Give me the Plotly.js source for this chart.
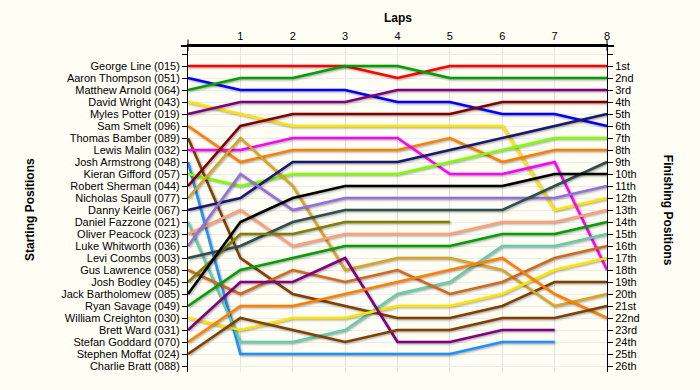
<!DOCTYPE html>
<html>
<head>
<meta charset="utf-8">
<script src="https://cdn.plot.ly/plotly-3.0.1.min.js"></script>
<style>
  html, body { margin: 0; padding: 0; background: #FFFEF5; }
  #chart { width: 700px; height: 390px; }
  #chart .scatterlayer .trace path.js-line {
    filter: drop-shadow(1px 1.5px 0.8px rgba(0, 0, 0, 0.38));
  }
</style>
</head>
<body>
<div id="chart"></div>
<script>
// ---- data ----
const laps = [0, 1, 2, 3, 4, 5, 6, 7, 8];

const drivers = [
  "George Line (015)", "Aaron Thompson (051)", "Matthew Arnold (064)", "David Wright (043)",
  "Myles Potter (019)", "Sam Smelt (096)", "Thomas Bamber (089)", "Lewis Malin (032)",
  "Josh Armstrong (048)", "Kieran Gifford (057)", "Robert Sherman (044)", "Nicholas Spaull (077)",
  "Danny Keirle (067)", "Daniel Fazzone (021)", "Oliver Peacock (023)", "Luke Whitworth (036)",
  "Levi Coombs (003)", "Gus Lawrence (058)", "Josh Bodley (045)", "Jack Bartholomew (085)",
  "Ryan Savage (049)", "William Creighton (030)", "Brett Ward (031)", "Stefan Goddard (070)",
  "Stephen Moffat (024)", "Charlie Bratt (088)"
];

// position of each driver after each lap (lap 0 = start); null = not running
const lapPositions = [
  [1, 1, 1, 1, 2, 1, 1, 1, 1],
  [2, 3, 3, 3, 4, 4, 5, 5, 6],
  [3, 2, 2, 1, 1, 2, 2, 2, 2],
  [4, 5, 6, 6, 6, 6, 6, 13, 12],
  [5, 4, 4, 4, 3, 3, 3, 3, 3],
  [6, 9, 8, 8, 8, 7, 9, 8, 8],
  [7, 17, 20, 21, 22, 22, 21, 19, 19],
  [8, 8, 7, 7, 7, 10, 10, 9, 18],
  [9, 25, 25, 25, 25, 25, 24, 24, null],
  [10, 11, 10, 10, 10, 9, 8, 7, 7],
  [11, 6, 5, 5, 5, 5, 4, 4, 4],
  [12, 7, 11, 18, 17, 17, 18, 21, 20],
  [13, 12, 9, 9, 9, 8, 7, 6, 5],
  [14, 24, 24, 23, 20, 19, 16, 16, 15],
  [15, 13, 16, 15, 15, 15, 14, 14, 13],
  [16, 10, 13, 12, 12, 12, 12, 12, 11],
  [17, 16, 14, 13, 13, 13, 13, 11, 9],
  [18, 20, 18, 19, 18, 20, 19, 17, 16],
  [19, 15, 15, 14, 14, 14, null, null, null],
  [20, 14, 12, 11, 11, 11, 11, 10, 10],
  [21, 18, 17, 16, 16, 16, 15, 15, 14],
  [22, 23, 22, 22, 21, 21, 20, 18, 17],
  [23, 19, 19, 17, 24, 24, 23, 23, null],
  [24, 21, 21, 20, 19, 18, 17, 20, 22],
  [25, 22, 23, 24, 23, 23, 22, 22, 21],
  [null, null, null, null, null, null, null, null, null]
];

const finishLabels = [
  "1st", "2nd", "3rd", "4th", "5th", "6th", "7th", "8th", "9th", "10th",
  "11th", "12th", "13th", "14th", "15th", "16th", "17th", "18th", "19th", "20th",
  "21st", "22nd", "23rd", "24th", "25th", "26th"
];

// ---- styles ----
const lineColors = [
  "#FF0000", "#0000FF", "#00A000", "#FFE400", "#800080", "#FF8000", "#804000",
  "#FF00FF", "#1E90FF", "#80FF00", "#800000", "#DAA520", "#191970", "#66CDAA",
  "#FFA07A", "#9370DB", "#2F4F4F", "#D2691E", "#808000", "#000000", "#00A000",
  "#FFE400", "#800080", "#FF8000", "#804000", "#FF00FF"
];

const positions = drivers.map((_, i) => i + 1);

const traces = drivers.map((name, i) => ({
  type: "scatter",
  mode: "lines",
  name: name,
  x: laps,
  y: lapPositions[i],
  line: { color: lineColors[i], width: 2.6 },
  connectgaps: false,
  hoverinfo: "name+y",
  xaxis: "x",
  yaxis: "y"
}));

// invisible helper trace so the right-hand axis is drawn
traces.push({
  type: "scatter", mode: "markers", x: [laps[0]], y: [positions[0]],
  marker: { opacity: 0 }, hoverinfo: "skip", showlegend: false,
  xaxis: "x", yaxis: "y2"
});

const yTop = -0.667, yBottom = 26.5;
const font = "Liberation Sans, Arial, sans-serif";

const layout = {
  width: 700,
  height: 390,
  margin: { l: 188, r: 93, t: 46, b: 18, pad: 0 },
  paper_bgcolor: "#FFFEF5",
  plot_bgcolor: "#FFFEF5",
  showlegend: false,
  font: { family: font, size: 11, color: "#000" },
  xaxis: {
    side: "top",
    range: [0, 8],
    tickmode: "array",
    tickvals: laps.slice(1),
    ticktext: laps.slice(1).map(String),
    ticks: "",
    showline: true,
    linecolor: "#000",
    linewidth: 2,
    mirror: false,
    showgrid: true,
    gridcolor: "#E4E4E4",
    gridwidth: 1,
    zeroline: false,
    tickfont: { size: 11, color: "#000" },
    fixedrange: true
  },
  yaxis: {
    range: [yBottom, yTop],
    tickmode: "array",
    tickvals: [0].concat(positions),
    ticktext: [""].concat(drivers),
    ticks: "outside",
    ticklen: 5,
    tickwidth: 1,
    tickcolor: "#000",
    showline: true,
    linecolor: "#000",
    linewidth: 1,
    showgrid: true,
    gridcolor: "#ECECEC",
    gridwidth: 1,
    zeroline: false,
    tickfont: { size: 11, color: "#000" },
    fixedrange: true
  },
  yaxis2: {
    overlaying: "y",
    side: "right",
    range: [yBottom, yTop],
    tickmode: "array",
    tickvals: [0].concat(positions),
    ticktext: [""].concat(finishLabels),
    ticks: "outside",
    ticklen: 5,
    tickwidth: 1,
    tickcolor: "#000",
    showline: true,
    linecolor: "#000",
    linewidth: 1,
    showgrid: false,
    zeroline: false,
    tickfont: { size: 11, color: "#000" },
    fixedrange: true
  },
  shapes: [
    { type: "line", xref: "paper", yref: "paper", x0: -0.017, x1: 1.017, y0: 1, y1: 1,
      line: { color: "#000", width: 2 } },
    { type: "line", xref: "paper", yref: "paper", x0: 0, x1: 0, y0: 1.02, y1: 0.985,
      line: { color: "#000", width: 1 } },
    { type: "line", xref: "paper", yref: "paper", x0: 1, x1: 1, y0: 1.02, y1: 0.985,
      line: { color: "#000", width: 1 } }
  ],
  annotations: [
    { text: "<b>Laps</b>", xref: "paper", yref: "paper", x: 0.5, y: 1.086,
      xanchor: "center", yanchor: "middle", showarrow: false,
      font: { family: font, size: 12, color: "#000" } },
    { text: "<b>Starting Positions</b>", xref: "paper", yref: "paper", x: -0.377, y: 0.497,
      xanchor: "center", yanchor: "middle", textangle: -90, showarrow: false,
      font: { family: font, size: 12, color: "#000" } },
    { text: "<b>Finishing Positions</b>", xref: "paper", yref: "paper", x: 1.146, y: 0.497,
      xanchor: "center", yanchor: "middle", textangle: 90, showarrow: false,
      font: { family: font, size: 12, color: "#000" } }
  ]
};

Plotly.newPlot("chart", traces, layout, { displayModeBar: false, staticPlot: true });
</script>
</body>
</html>
